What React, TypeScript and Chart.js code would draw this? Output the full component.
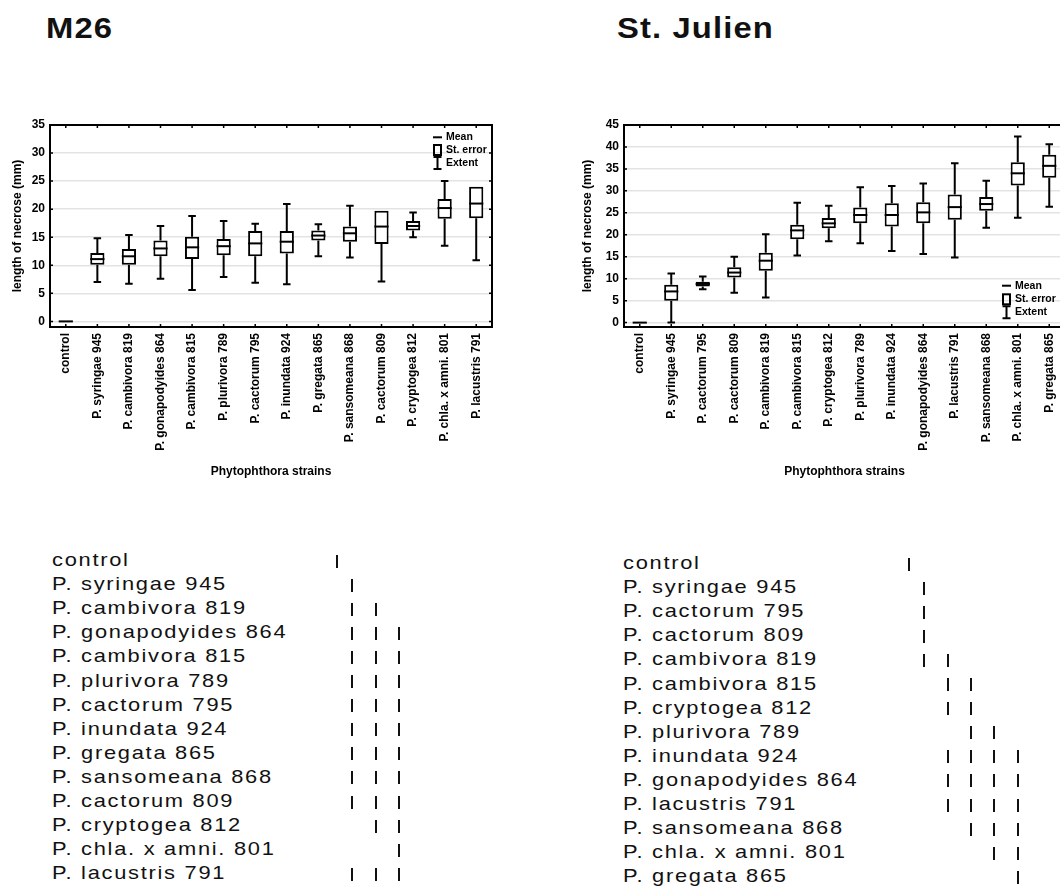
import React, { useEffect, useRef } from 'react';
import { Chart, registerables } from 'chart.js';

Chart.register(...registerables);

const FONT = '"Liberation Sans", Arial, Helvetica, sans-serif';

// ---------- M26 ----------
const m26Strains = [
  'control', 'P. syringae 945', 'P. cambivora 819', 'P. gonapodyides 864', 'P. cambivora 815',
  'P. plurivora 789', 'P. cactorum 795', 'P. inundata 924', 'P. gregata 865', 'P. sansomeana 868',
  'P. cactorum 809', 'P. cryptogea 812', 'P. chla. x amni. 801', 'P. lacustris 791',
];
const m26Mean = [0, 11.1, 11.6, 13.0, 13.2, 13.4, 13.9, 14.2, 15.3, 15.7, 16.9, 17.0, 20.2, 21.0];
const m26SeLow = [0, 10.1, 10.1, 11.6, 11.1, 11.8, 11.6, 12.1, 14.4, 14.2, 13.8, 16.2, 18.3, 18.4];
const m26SeHigh = [0, 12.2, 12.9, 14.4, 15.1, 14.7, 16.1, 16.1, 16.2, 16.9, 19.7, 17.9, 21.8, 24.0];
const m26Min = [0, 7.0, 6.7, 7.6, 5.6, 7.9, 6.9, 6.6, 11.6, 11.4, 7.1, 15.0, 13.5, 10.9];
const m26Max = [0, 14.8, 15.4, 17.0, 18.8, 17.9, 17.4, 20.9, 17.3, 20.6, 19.7, 19.4, 25.0, 24.0];
const m26YTicks = [0, 5, 10, 15, 20, 25, 30, 35];
const m26Groups = ['0', 'a', 'ab', 'abc', 'abc', 'abc', 'abc', 'abc', 'abc', 'abc', 'abc', 'bc', 'c', 'abc'];

// ---------- St. Julien ----------
const stjStrains = [
  'control', 'P. syringae 945', 'P. cactorum 795', 'P. cactorum 809', 'P. cambivora 819',
  'P. cambivora 815', 'P. cryptogea 812', 'P. plurivora 789', 'P. inundata 924', 'P. gonapodyides 864',
  'P. lacustris 791', 'P. sansomeana 868', 'P. chla. x amni. 801', 'P. gregata 865',
];
const stjMean = [0, 7.1, 8.8, 11.4, 14.1, 21.0, 22.6, 24.5, 24.5, 25.1, 26.3, 27.0, 34.0, 35.7];
const stjSeLow = [0, 5.0, 8.2, 10.3, 11.8, 19.0, 21.5, 22.6, 21.9, 22.6, 23.4, 25.5, 31.2, 33.0];
const stjSeHigh = [0, 8.6, 9.3, 12.6, 15.9, 22.3, 23.8, 26.2, 27.2, 27.4, 29.2, 28.6, 36.5, 38.2];
const stjMin = [0, 0, 7.6, 6.8, 5.7, 15.3, 18.5, 18.1, 16.3, 15.6, 14.8, 21.6, 23.9, 26.4];
const stjMax = [0, 11.2, 10.5, 15.0, 20.1, 27.3, 26.6, 30.8, 31.1, 31.7, 36.3, 32.3, 42.4, 40.6];
const stjYTicks = [0, 5, 10, 15, 20, 25, 30, 35, 40, 45];
const stjGroups = ['0', 'a', 'a', 'a', 'ab', 'bc', 'bc', 'cd', 'bcde', 'bcde', 'bcde', 'cde', 'de', 'e'];

const legendLabels = ['Mean', 'St. error', 'Extent'];
const xTitle = 'Phytophthora strains';
const yTitle = 'length of necrose (mm)';

const BAR_PCT = 0.45;

type BoxChartProps = {
  strains: string[];
  mean: number[];
  seLow: number[];
  seHigh: number[];
  min: number[];
  max: number[];
  yMax: number;
  yTicks: number[];
  legendPos: 'top-right' | 'bottom-right';
  left: number;
  top: number;
  width: number;
  height: number;
  padRight: number;
  yAxisWidth: number;
};

function BoxChart(p: BoxChartProps) {
  const ref = useRef<HTMLCanvasElement>(null);
  useEffect(() => {
    if (!ref.current) return;
    const boxPlugin = {
      id: 'boxWhisker',
      afterDatasetsDraw(chart: any) {
        const { ctx } = chart;
        const x = chart.scales.x;
        const y = chart.scales.y;
        const step = x.getPixelForValue(1) - x.getPixelForValue(0);
        const boxW = step * BAR_PCT;
        const capW = 7.5;
        ctx.save();
        ctx.strokeStyle = '#000';
        ctx.lineWidth = 2;
        p.strains.forEach((_, i) => {
          const cx = x.getPixelForValue(i);
          const yHi = y.getPixelForValue(p.seHigh[i]);
          const yLo = y.getPixelForValue(p.seLow[i]);
          const yMx = y.getPixelForValue(p.max[i]);
          const yMn = y.getPixelForValue(p.min[i]);
          ctx.beginPath();
          if (p.max[i] > p.seHigh[i]) {
            ctx.moveTo(cx, yHi);
            ctx.lineTo(cx, yMx);
            ctx.moveTo(cx - capW / 2, yMx);
            ctx.lineTo(cx + capW / 2, yMx);
          }
          if (p.min[i] < p.seLow[i]) {
            ctx.moveTo(cx, yLo);
            ctx.lineTo(cx, yMn);
            ctx.moveTo(cx - capW / 2, yMn);
            ctx.lineTo(cx + capW / 2, yMn);
          }
          ctx.stroke();
          const ym = y.getPixelForValue(p.mean[i]);
          ctx.beginPath();
          ctx.moveTo(cx - boxW / 2, ym);
          ctx.lineTo(cx + boxW / 2, ym);
          ctx.stroke();
        });
        ctx.restore();
      },
      afterDraw(chart: any) {
        const { ctx, chartArea: a } = chart;
        const x = chart.scales.x;
        const y = chart.scales.y;
        ctx.save();
        ctx.strokeStyle = '#000';
        ctx.lineWidth = 2;
        ctx.strokeRect(a.left, a.top, a.right - a.left, a.bottom - a.top);
        ctx.lineWidth = 1.5;
        ctx.beginPath();
        p.strains.forEach((_, i) => {
          const cx = x.getPixelForValue(i);
          ctx.moveTo(cx, a.top);
          ctx.lineTo(cx, a.top + 3);
          ctx.moveTo(cx, a.bottom);
          ctx.lineTo(cx, a.bottom - 3);
        });
        p.yTicks.forEach((v) => {
          const yy = y.getPixelForValue(v);
          ctx.moveTo(a.left, yy);
          ctx.lineTo(a.left + 3, yy);
          ctx.moveTo(a.right, yy);
          ctx.lineTo(a.right - 3, yy);
        });
        ctx.stroke();
        // legend
        const sx = p.legendPos === 'top-right' ? a.right - 59 : a.right - 63;
        const rows = p.legendPos === 'top-right'
          ? [a.top + 12.3, a.top + 25, a.top + 38]
          : [a.bottom - 41.3, a.bottom - 27.7, a.bottom - 14.7];
        ctx.lineWidth = 2;
        ctx.beginPath();
        ctx.moveTo(sx, rows[0]);
        ctx.lineTo(sx + 9, rows[0]);
        ctx.stroke();
        ctx.strokeRect(sx + 1, rows[1] - 5, 7, 10);
        ctx.beginPath();
        ctx.moveTo(sx + 4.5, rows[2] - 6);
        ctx.lineTo(sx + 4.5, rows[2] + 6);
        ctx.moveTo(sx + 0.5, rows[2] - 6);
        ctx.lineTo(sx + 8.5, rows[2] - 6);
        ctx.moveTo(sx + 0.5, rows[2] + 6);
        ctx.lineTo(sx + 8.5, rows[2] + 6);
        ctx.stroke();
        ctx.fillStyle = '#000';
        ctx.font = `bold 10.5px ${FONT}`;
        ctx.textBaseline = 'middle';
        ctx.textAlign = 'left';
        legendLabels.forEach((t, i) => ctx.fillText(t, sx + 13, rows[i]));
        ctx.restore();
      },
    };

    const axisFont = { family: FONT, size: 12, weight: 'bold' as const };
    const chartTop = 15;
    const plotH = 202;
    const xAxisH = p.height - chartTop - plotH;

    const chart = new Chart(ref.current, {
      type: 'bar',
      data: {
        labels: p.strains,
        datasets: [
          {
            data: p.strains.map((_, i) =>
              p.seHigh[i] > p.seLow[i] ? [p.seLow[i], p.seHigh[i]] : null
            ) as any,
            backgroundColor: '#ffffff',
            borderColor: '#000000',
            borderWidth: 2,
            borderSkipped: false,
            barPercentage: BAR_PCT,
            categoryPercentage: 1,
          },
        ],
      },
      options: {
        responsive: false,
        animation: false,
        devicePixelRatio: 1,
        layout: { padding: { left: 0, right: p.padRight, top: chartTop, bottom: 0 } },
        plugins: { legend: { display: false }, tooltip: { enabled: false } },
        scales: {
          x: {
            grid: { display: false, drawTicks: false },
            border: { display: false },
            ticks: {
              autoSkip: false,
              minRotation: 90,
              maxRotation: 90,
              padding: 6,
              color: '#000',
              font: axisFont,
            },
            title: {
              display: true,
              text: xTitle,
              color: '#000',
              font: axisFont,
              padding: { top: 0, bottom: 4 },
            },
            afterFit(s: any) {
              s.height = xAxisH;
            },
          },
          y: {
            min: -1,
            max: p.yMax,
            afterBuildTicks(s: any) {
              s.ticks = p.yTicks.map((v) => ({ value: v }));
            },
            grid: { color: '#e3e3e3', lineWidth: 1.5, drawTicks: false },
            border: { display: false },
            ticks: { padding: 5, color: '#000', font: axisFont },
            title: {
              display: true,
              text: yTitle,
              color: '#000',
              font: axisFont,
              padding: { top: 10.8, bottom: 0 },
            },
            afterFit(s: any) {
              s.width = p.yAxisWidth;
            },
          },
        },
      },
      plugins: [boxPlugin],
    });
    return () => chart.destroy();
  }, []);
  return (
    <canvas
      ref={ref}
      width={p.width}
      height={p.height}
      style={{ position: 'absolute', left: p.left, top: p.top, width: p.width, height: p.height }}
    />
  );
}

type TableProps = {
  labels: string[];
  groups: string[];
  colX: Record<string, number>;
  textLeft: number;
  top: number;
};

function GroupTable({ labels, groups, colX, textLeft, top }: TableProps) {
  const rowH = 24.1;
  return (
    <>
      {labels.map((lab, i) => (
        <React.Fragment key={i}>
          <div
            style={{
              position: 'absolute',
              left: textLeft,
              top: top + i * rowH,
              fontSize: 19,
              lineHeight: `${rowH}px`,
              letterSpacing: 1.5,
              color: '#111',
              whiteSpace: 'nowrap',
              fontFamily: FONT,
              transform: 'scaleX(1.15)',
              transformOrigin: 'left center',
            }}
          >
            {lab}
          </div>
          {groups[i].split('').map((g) => (
            <div
              key={g}
              style={{
                position: 'absolute',
                left: colX[g] - 1,
                top: top + i * rowH + 6.5,
                width: 2,
                height: 13,
                background: '#111',
              }}
            />
          ))}
        </React.Fragment>
      ))}
    </>
  );
}

export default function App() {
  const titleStyle: React.CSSProperties = {
    position: 'absolute',
    top: 13,
    fontSize: 29,
    lineHeight: '30px',
    fontWeight: 'bold',
    letterSpacing: 1,
    color: '#111',
    fontFamily: FONT,
    whiteSpace: 'nowrap',
    transform: 'scaleX(1.13)',
    transformOrigin: 'left center',
  };
  return (
    <div
      style={{
        position: 'fixed',
        left: 0,
        top: 0,
        width: 1060,
        height: 887,
        overflow: 'hidden',
        background: '#fff',
      }}
    >
      <div style={{ ...titleStyle, left: 46 }}>M26</div>
      <div style={{ ...titleStyle, left: 617 }}>St. Julien</div>
      <BoxChart
        strains={m26Strains}
        mean={m26Mean}
        seLow={m26SeLow}
        seHigh={m26SeHigh}
        min={m26Min}
        max={m26Max}
        yMax={35}
        yTicks={m26YTicks}
        legendPos="top-right"
        left={0}
        top={110}
        width={530}
        height={373}
        padRight={38}
        yAxisWidth={50}
      />
      <BoxChart
        strains={stjStrains}
        mean={stjMean}
        seLow={stjSeLow}
        seHigh={stjSeHigh}
        min={stjMin}
        max={stjMax}
        yMax={45}
        yTicks={stjYTicks}
        legendPos="bottom-right"
        left={570}
        top={110}
        width={530}
        height={373}
        padRight={35}
        yAxisWidth={54}
      />
      <GroupTable
        labels={m26Strains}
        groups={m26Groups}
        colX={{ '0': 337, a: 352, b: 376, c: 399 }}
        textLeft={52}
        top={548}
      />
      <GroupTable
        labels={stjStrains}
        groups={stjGroups}
        colX={{ '0': 909, a: 924, b: 948, c: 971, d: 994, e: 1018 }}
        textLeft={623}
        top={551}
      />
    </div>
  );
}
